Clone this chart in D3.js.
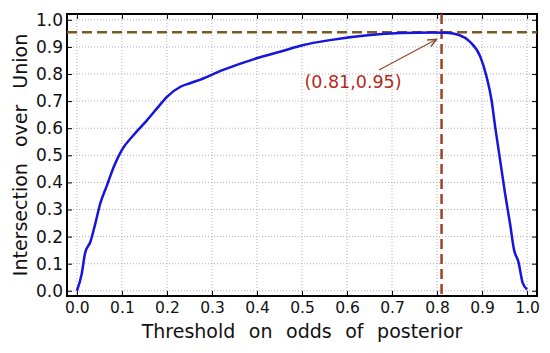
<!DOCTYPE html>
<html>
<head>
<meta charset="utf-8">
<script src="https://cdn.jsdelivr.net/npm/d3@7/dist/d3.min.js"></script>
<style>
  body { margin: 0; background: #fff; }
  svg text { font-family: "DejaVu Sans", sans-serif; }
</style>
</head>
<body>
<svg id="chart" width="550" height="353"></svg>
<script>
// curve
let thresholds = [0.0, 0.011, 0.018, 0.030, 0.041, 0.052, 0.067, 0.082, 0.1, 0.126, 0.156, 0.178, 0.2, 0.23, 0.251, 0.267, 0.325, 0.399, 0.451, 0.503, 0.562, 0.651, 0.72, 0.79, 0.821, 0.849, 0.873, 0.896, 0.910, 0.921, 0.929, 0.94, 0.951, 0.962, 0.971, 0.981, 0.99, 1.0];
let iou = [0.0, 0.065, 0.138, 0.181, 0.249, 0.323, 0.39, 0.458, 0.52, 0.575, 0.63, 0.673, 0.716, 0.753, 0.766, 0.775, 0.815, 0.858, 0.882, 0.907, 0.925, 0.944, 0.951, 0.953, 0.952, 0.944, 0.919, 0.864, 0.79, 0.704, 0.606, 0.483, 0.36, 0.249, 0.151, 0.105, 0.03, 0.005];
let tickValues = [0.0, 0.1, 0.2, 0.3, 0.4, 0.5, 0.6, 0.7, 0.8, 0.9, 1.0];
let best = {x: 0.81, y: 0.954, label: "(0.81,0.95)"};

let svg = d3.select("#chart");
let pl = 67, pr = 537, pt = 14, pb = 296;

let x = d3.scaleLinear().domain([-0.022, 1.022]).range([pl, pr]);
let y = d3.scaleLinear().domain([-0.0192, 1.0214]).range([pb, pt]);

// grid
let grid = svg.append("g");
tickValues.forEach(v => {
    grid.append("line")
        .attr("x1", x(v)).attr("x2", x(v))
        .attr("y1", pt).attr("y2", pb)
        .attr("stroke", "#b0b0b0").attr("stroke-dasharray", "1,2");
    grid.append("line")
        .attr("x1", pl).attr("x2", pr)
        .attr("y1", y(v)).attr("y2", y(v))
        .attr("stroke", "#b0b0b0").attr("stroke-dasharray", "1,2");
});

// axes, ticks pointing inward
let fmt = d3.format(".1f");
let xAxis = svg.append("g").attr("transform", `translate(0,${pb})`)
    .call(d3.axisBottom(x).tickValues(tickValues).tickFormat(fmt).tickSize(-5).tickPadding(6));
svg.append("g").attr("transform", `translate(0,${pt})`)
    .call(d3.axisTop(x).tickValues(tickValues).tickFormat("").tickSize(-5));
let yAxis = svg.append("g").attr("transform", `translate(${pl},0)`)
    .call(d3.axisLeft(y).tickValues(tickValues).tickFormat(fmt).tickSize(-5).tickPadding(4));
svg.append("g").attr("transform", `translate(${pr},0)`)
    .call(d3.axisRight(y).tickValues(tickValues).tickFormat("").tickSize(-5));

svg.selectAll(".domain").remove();
svg.selectAll(".tick line").attr("stroke", "#000").attr("stroke-width", 1);
xAxis.selectAll(".tick text").attr("font-size", 15.5).attr("fill", "#111")
    .style("font-family", "DejaVu Sans, sans-serif");
yAxis.selectAll(".tick text").attr("font-size", 17).attr("fill", "#111")
    .style("font-family", "DejaVu Sans, sans-serif");

// frame
svg.append("rect")
    .attr("x", pl).attr("y", pt)
    .attr("width", pr - pl).attr("height", pb - pt)
    .attr("fill", "none").attr("stroke", "#000").attr("stroke-width", 2);

// best point guides
svg.append("line")
    .attr("x1", pl).attr("x2", pr)
    .attr("y1", y(best.y)).attr("y2", y(best.y))
    .attr("stroke", "#7d5a1e").attr("stroke-width", 2.5).attr("stroke-dasharray", "10,5");
svg.append("line")
    .attr("x1", x(best.x)).attr("x2", x(best.x))
    .attr("y1", pt).attr("y2", pb)
    .attr("stroke", "#a0402a").attr("stroke-width", 2.5).attr("stroke-dasharray", "10,5");

// curve
let line = d3.line().curve(d3.curveMonotoneX).x((d, i) => x(thresholds[i])).y(d => y(d));
svg.append("path")
    .datum(iou)
    .attr("d", line)
    .attr("fill", "none")
    .attr("stroke", "#1515dd")
    .attr("stroke-width", 2.5)
    .attr("stroke-linejoin", "round");

// annotation
svg.append("defs").append("marker")
    .attr("id", "arr").attr("viewBox", "0 0 10 10")
    .attr("refX", 9).attr("refY", 5)
    .attr("markerWidth", 8).attr("markerHeight", 8)
    .attr("orient", "auto")
    .append("path").attr("d", "M0,1 L9,5 L0,9").attr("fill", "none").attr("stroke", "#8b4a2b").attr("stroke-width", 1.5);
svg.append("line")
    .attr("x1", 379).attr("y1", 70)
    .attr("x2", x(best.x) - 5).attr("y2", y(best.y) + 7)
    .attr("stroke", "#8b4a2b").attr("stroke-width", 1.2)
    .attr("marker-end", "url(#arr)");
svg.append("text")
    .attr("x", 353).attr("y", 88)
    .attr("text-anchor", "middle")
    .attr("font-size", 17.5)
    .attr("fill", "#b22a1a")
    .text(best.label);

// axis titles
svg.append("text")
    .attr("x", 302).attr("y", 338)
    .attr("text-anchor", "middle")
    .attr("font-size", 19)
    .attr("word-spacing", 7.5)
    .attr("fill", "#111")
    .text("Threshold on odds of posterior");
svg.append("text")
    .attr("transform", "translate(27,155) rotate(-90)")
    .attr("text-anchor", "middle")
    .attr("font-size", 19)
    .attr("word-spacing", 10)
    .attr("fill", "#111")
    .text("Intersection over Union");
</script>
</body>
</html>
